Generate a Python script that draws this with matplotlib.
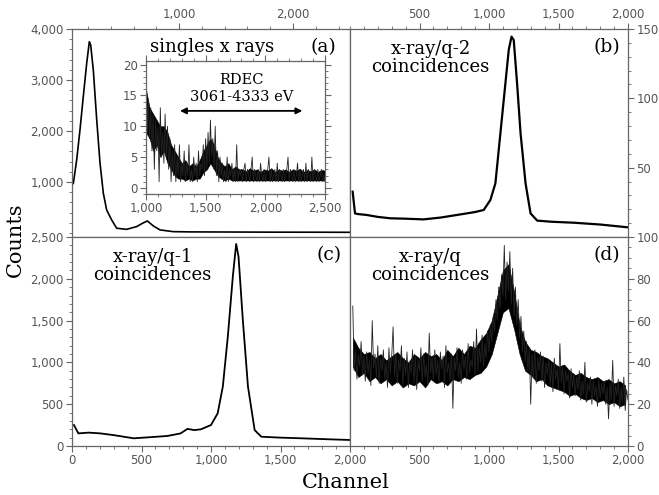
import numpy as np
import matplotlib.pyplot as plt
from matplotlib.ticker import MultipleLocator, FixedLocator, FuncFormatter

# (a) singles x-ray spectrum
a_channel = [62, 72, 101, 130, 159, 189, 212, 224, 247, 277, 306, 335, 364, 408,
             452, 539, 627, 680, 721, 774, 832, 949, 1100, 1400, 1800, 2200, 2500]
a_counts = [950, 974, 1431, 2020, 2673, 3327, 3751, 3686, 3196, 2216, 1366, 778,
            451, 255, 92, 70, 124, 190, 235, 137, 59, 25, 20, 18, 15, 14, 12]

# inset: RDEC region of the singles spectrum, one value every 10 channels from 1000
inset_counts = [
    18, 9, 14, 8, 13, 6, 12, 3, 11, 6,
    10, 1, 13, 5, 9, 4, 12, 5, 10, 3,
    8, 1, 6, 2, 7, 1, 5, 2, 7, 1,
    4, 2, 6, 1, 4, 2, 7, 1, 3, 1,
    5, 2, 4, 1, 6, 2, 4, 3, 7, 2,
    8, 3, 9, 4, 11, 5, 8, 3, 10, 2,
    6, 1, 5, 2, 4, 1, 3, 1, 5, 1,
    3, 2, 4, 1, 3, 1, 7, 1, 3, 2,
    3, 1, 3, 4, 1, 3, 2, 1, 3, 5,
    1, 3, 2, 1, 3, 1, 4, 2, 1, 3,
    1, 2, 3, 5, 1, 3, 1, 2, 3, 1,
    4, 1, 3, 2, 1, 3, 1, 2, 3, 5,
    1, 3, 2, 1, 3, 1, 2, 4, 1, 3,
    1, 2, 3, 1, 4, 1, 3, 2, 1, 5,
    1, 3, 2, 1, 3, 1, 2, 3, 1, 2,
    1,
]
# dense core of the inset trace (lower / upper edge of the black band), every 30 channels
inset_band_low = [
    9, 8, 6, 7, 5, 6, 4, 3, 2, 1.5,
    1.5, 1.2, 1.5, 1.2, 1.5, 1.5, 2.5, 3, 4, 3,
    2, 1.5, 1.2, 1.5, 1.2, 1.2, 1.2, 1.2, 1.2, 1.2,
    1.2, 1.2, 1.2, 1.2, 1.2, 1.2, 1.2, 1.2, 1.2, 1.2,
    1.2, 1.2, 1.2, 1.2, 1.2, 1.2, 1.2, 1.2, 1.2, 1.2,
    1.2,
]
inset_band_high = [
    16, 13, 12, 11, 10, 10, 9, 7, 6, 5,
    4, 4.5, 3.5, 4, 3.5, 4.5, 6, 7, 8, 7,
    5, 4, 3.5, 4, 3, 3.5, 3, 3, 2.7, 3.2,
    2.8, 3, 2.6, 3, 2.8, 3.2, 2.6, 3, 2.8, 3,
    2.6, 3, 2.8, 3.1, 2.6, 2.9, 2.7, 3, 2.6, 2.9,
    2.8,
]

# (b) x-ray / q-2 coincidences
b_channel = [19, 36, 60, 120, 200, 289, 400, 529, 650, 770, 900, 962, 1010, 1046,
             1082, 1118, 1142, 1162, 1178, 1202, 1227, 1263, 1299, 1347, 1450,
             1611, 1800, 1996]
b_counts = [32.7, 17, 16.5, 15.9, 14.5, 13.5, 13.2, 12.7, 14, 15.9, 18, 19.5,
            26.7, 38.7, 74.8, 110.8, 134.9, 144.5, 142, 110.8, 74.8, 38.7, 17,
            11.8, 11, 10.3, 9, 7]

# (c) x-ray / q-1 coincidences
c_channel = [14, 46, 120, 203, 300, 444, 560, 686, 780, 831, 880, 928, 1000, 1048,
             1085, 1121, 1157, 1181, 1198, 1229, 1266, 1314, 1362, 1500, 1652,
             1850, 2000]
c_counts = [251, 151, 160, 151, 130, 92, 105, 120, 150, 205, 190, 200, 251, 391,
            710, 1308, 2026, 2417, 2265, 1508, 710, 191, 111, 100, 92, 80, 72]

# (d) x-ray / q coincidences, one value every 10 channels from 20
d_counts = [
    67, 36, 46, 32, 44, 38, 50, 34, 43, 31,
    45, 35, 41, 29, 60, 37, 44, 33, 48, 30,
    42, 36, 46, 32, 40, 28, 47, 35, 43, 57,
    33, 44, 30, 41, 36, 48, 29, 42, 34, 45,
    28, 40, 35, 46, 30, 43, 27, 41, 36, 47,
    31, 44, 33, 39, 29, 54, 35, 42, 32, 46,
    34, 41, 30, 45, 37, 43, 28, 48, 35, 40,
    31, 44, 18, 42, 36, 47, 33, 40, 30, 46,
    37, 43, 32, 49, 35, 41, 38, 50, 34, 56,
    36, 47, 40, 53, 38, 49, 42, 55, 45, 58,
    50, 62, 55, 70, 60, 76, 66, 82, 72, 96,
    70, 88, 74, 93, 68, 85, 62, 76, 58, 70,
    52, 62, 45, 55, 40, 50, 36, 47, 20, 44,
    33, 46, 30, 42, 36, 45, 31, 43, 28, 40,
    34, 41, 29, 39, 26, 42, 32, 37, 27, 49,
    30, 38, 25, 36, 31, 35, 23, 37, 28, 34,
    24, 33, 27, 36, 22, 31, 25, 40, 21, 30,
    26, 33, 20, 31, 24, 29, 19, 32, 23, 30,
    25, 31, 20, 28, 13, 30, 22, 41, 19, 29,
    24, 32, 18, 28, 21, 33, 17, 27, 22,
]
# dense core of the (d) trace, every 40 channels from 20
d_band_low = [
    38, 33, 35, 31, 33, 30, 32, 29, 31, 28,
    30, 29, 31, 28, 32, 30, 31, 29, 32, 31,
    33, 32, 34, 35, 38, 44, 54, 64, 66, 56,
    44, 36, 34, 31, 32, 29, 28, 27, 26, 24,
    25, 23, 22, 23, 21, 22, 20, 21, 19, 20,
]
d_band_high = [
    52, 47, 44, 45, 42, 44, 41, 43, 45, 42,
    40, 44, 42, 45, 43, 44, 41, 46, 43, 47,
    44, 48, 47, 51, 54, 60, 72, 84, 87, 74,
    58, 50, 46, 45, 43, 42, 40, 38, 39, 36,
    34, 35, 33, 32, 33, 31, 32, 30, 31, 29,
]

inset_channel = np.linspace(1000, 2500, len(inset_counts))
inset_band_channel = np.linspace(1000, 2500, len(inset_band_low))
d_channel = np.linspace(20, 2000, len(d_counts))
d_band_channel = np.linspace(20, 1980, len(d_band_low))

W, H = 659, 495
GREY = '#555555'
SERIF = 'DejaVu Serif'
comma = FuncFormatter(lambda v, pos: f"{int(round(v)):,}")


def box(x0, y0, x1, y1):
    return [x0 / W, 1 - y1 / H, (x1 - x0) / W, (y1 - y0) / H]


def style(ax, **sides):
    for sp in ax.spines.values():
        sp.set_color('#666666')
        sp.set_linewidth(0.9)
    ax.tick_params(which='both', direction='out', color='#666666',
                   labelcolor=GREY, labelsize=8.5, **sides)
    ax.tick_params(which='major', length=4, pad=2)
    ax.tick_params(which='minor', length=2.5)


fig = plt.figure(figsize=(W / 100, H / 100), dpi=100)

ax_a = fig.add_axes(box(72, 29, 350, 237))
ax_b = fig.add_axes(box(350, 29, 628, 237))
ax_c = fig.add_axes(box(72, 237, 350, 446))
ax_d = fig.add_axes(box(350, 237, 628, 446))
ax_in = fig.add_axes(box(146, 61, 325, 194))

# (a)
ax_a.plot(a_channel, a_counts, color='black', lw=1.2)
ax_a.set_xlim(60, 2500)
ax_a.set_ylim(-80, 4000)
ax_a.xaxis.set_major_locator(FixedLocator([1000, 2000]))
ax_a.xaxis.set_minor_locator(MultipleLocator(200))
ax_a.yaxis.set_major_locator(FixedLocator([1000, 2000, 3000, 4000]))
ax_a.yaxis.set_minor_locator(MultipleLocator(200))
ax_a.xaxis.set_major_formatter(comma)
ax_a.yaxis.set_major_formatter(comma)
style(ax_a, top=True, labeltop=True, bottom=False, labelbottom=False,
      left=True, right=False)
ax_a.text(0.504, 0.915, 'singles x rays', transform=ax_a.transAxes,
          ha='center', va='center', fontsize=13, family=SERIF)
ax_a.text(0.903, 0.915, '(a)', transform=ax_a.transAxes,
          ha='center', va='center', fontsize=13.5, family=SERIF)

# inset
ax_in.fill_between(inset_band_channel, inset_band_low, inset_band_high,
                   color='black', lw=0.4)
ax_in.plot(inset_channel, inset_counts, color='#222222', lw=0.6)
ax_in.set_xlim(1000, 2500)
ax_in.set_ylim(-1, 20.6)
ax_in.xaxis.set_major_locator(MultipleLocator(500))
ax_in.xaxis.set_minor_locator(MultipleLocator(100))
ax_in.yaxis.set_major_locator(MultipleLocator(5))
ax_in.yaxis.set_minor_locator(MultipleLocator(1))
ax_in.xaxis.set_major_formatter(comma)
style(ax_in, top=True, right=True, left=True, bottom=True)
ax_in.text(1800, 17.5, 'RDEC', ha='center', va='center', fontsize=10.5,
           family=SERIF)
ax_in.text(1800, 14.8, '3061-4333 eV', ha='center', va='center',
           fontsize=10.5, family=SERIF)
ax_in.annotate('', xy=(1285, 12.5), xytext=(2310, 12.5),
               arrowprops=dict(arrowstyle='<|-|>', color='black', lw=1.3,
                               mutation_scale=9, shrinkA=0, shrinkB=0))

# (b)
ax_b.plot(b_channel, b_counts, color='black', lw=1.6)
ax_b.set_xlim(0, 2000)
ax_b.set_ylim(0, 150)
ax_b.xaxis.set_major_locator(FixedLocator([500, 1000, 1500, 2000]))
ax_b.xaxis.set_minor_locator(MultipleLocator(100))
ax_b.yaxis.set_major_locator(FixedLocator([50, 100, 150]))
ax_b.yaxis.set_minor_locator(MultipleLocator(10))
ax_b.xaxis.set_major_formatter(comma)
ax_b.yaxis.tick_right()
style(ax_b, top=True, labeltop=True, bottom=False, labelbottom=False,
      left=False, labelleft=False, right=True, labelright=True)
ax_b.text(0.29, 0.86, 'x-ray/q-2\ncoincidences', transform=ax_b.transAxes,
          ha='center', va='center', fontsize=13, family=SERIF, linespacing=1.0)
ax_b.text(0.924, 0.915, '(b)', transform=ax_b.transAxes,
          ha='center', va='center', fontsize=13.5, family=SERIF)

# (c)
ax_c.plot(c_channel, c_counts, color='black', lw=1.3)
ax_c.set_xlim(0, 2000)
ax_c.set_ylim(0, 2500)
ax_c.xaxis.set_major_locator(MultipleLocator(500))
ax_c.xaxis.set_minor_locator(MultipleLocator(100))
ax_c.yaxis.set_major_locator(MultipleLocator(500))
ax_c.yaxis.set_minor_locator(MultipleLocator(100))
ax_c.xaxis.set_major_formatter(comma)
ax_c.yaxis.set_major_formatter(comma)
style(ax_c, top=False, right=False, left=True, bottom=True)
ax_c.text(0.29, 0.86, 'x-ray/q-1\ncoincidences', transform=ax_c.transAxes,
          ha='center', va='center', fontsize=13, family=SERIF, linespacing=1.0)
ax_c.text(0.924, 0.915, '(c)', transform=ax_c.transAxes,
          ha='center', va='center', fontsize=13.5, family=SERIF)

# (d)
ax_d.fill_between(d_band_channel, d_band_low, d_band_high, color='black',
                  lw=0.4)
ax_d.plot(d_channel, d_counts, color='#222222', lw=0.6)
ax_d.set_xlim(0, 2000)
ax_d.set_ylim(0, 100)
ax_d.xaxis.set_major_locator(FixedLocator([500, 1000, 1500, 2000]))
ax_d.xaxis.set_minor_locator(MultipleLocator(100))
ax_d.yaxis.set_major_locator(MultipleLocator(20))
ax_d.yaxis.set_minor_locator(MultipleLocator(5))
ax_d.xaxis.set_major_formatter(comma)
ax_d.yaxis.tick_right()
style(ax_d, top=False, left=False, labelleft=False, right=True,
      labelright=True, bottom=True)
ax_d.text(0.29, 0.86, 'x-ray/q\ncoincidences', transform=ax_d.transAxes,
          ha='center', va='center', fontsize=13, family=SERIF, linespacing=1.0)
ax_d.text(0.924, 0.915, '(d)', transform=ax_d.transAxes,
          ha='center', va='center', fontsize=13.5, family=SERIF)

fig.text(15 / W, 1 - 240 / H, 'Counts', rotation=90, ha='center',
         va='center', fontsize=15, family=SERIF)
fig.text(346 / W, 1 - 482 / H, 'Channel', ha='center', va='center',
         fontsize=15, family=SERIF)

fig.savefig('out.png', dpi=100)
